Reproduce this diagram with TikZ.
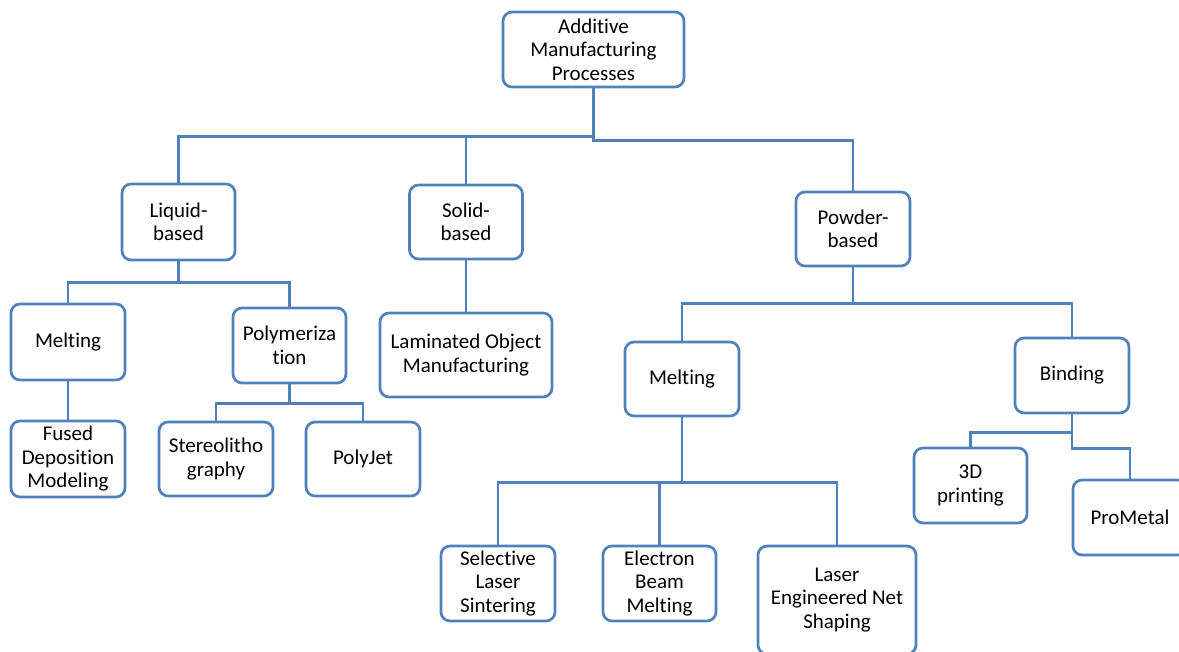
\documentclass[tikz,border=0pt]{standalone}
\usepackage{fontspec}
\setmainfont{Carlito}[Ligatures={NoCommon}]
\usepackage{xcolor}
\usetikzlibrary{positioning}
\definecolor{boxblue}{RGB}{79,129,189}

\begin{document}
\begin{tikzpicture}[x=1pt,y=-1pt,
    box/.style={draw=boxblue,line width=2.7pt,rounded corners=9pt,fill=white,
      align=center,inner sep=0pt,font=\fontsize{21}{23.5}\selectfont},
    link/.style={draw=boxblue,line width=2.7pt}]
  \useasboundingbox (0,0) rectangle (1179,652);
  % Top level
  \node[box,minimum width=181,minimum height=75] (amp) at (593.5,49.5)
    {Additive\\Manufacturing\\Processes};
  % Material groups
  \node[box,minimum width=113,minimum height=76] (liquid) at (178.5,222) {Liquid-\\based};
  \node[box,minimum width=113,minimum height=74] (solid) at (466,222) {Solid-\\based};
  \node[box,minimum width=114,minimum height=74] (powder) at (853,229) {Powder-\\based};
  % Liquid branch
  \node[box,minimum width=114,minimum height=76] (meltliq) at (68,342) {Melting};
  \node[box,minimum width=113,minimum height=75] (polym) at (289.5,345.5) {Polymeriza\\tion};
  \node[box,minimum width=114,minimum height=76] (fdm) at (68,459) {Fused\\Deposition\\Modeling};
  \node[box,minimum width=114,minimum height=74] (sla) at (216,459) {Stereolitho\\graphy};
  \node[box,minimum width=114,minimum height=74] (polyjet) at (363,459) {PolyJet};
  % Solid branch
  \node[box,minimum width=172,minimum height=84] (lom) at (466,355) {Laminated Object\\Manufacturing};
  % Powder branch
  \node[box,minimum width=114,minimum height=74] (meltpow) at (682,379) {Melting};
  \node[box,minimum width=114,minimum height=75] (binding) at (1072,375.5) {Binding};
  \node[box,minimum width=113,minimum height=75] (print3d) at (970.5,485.5) {3D\\printing};
  \node[box,minimum width=114,minimum height=75] (prometal) at (1130,517.5) {ProMetal};
  \node[box,minimum width=114,minimum height=75] (sls) at (498,583.5) {Selective\\Laser\\Sintering};
  \node[box,minimum width=113,minimum height=75] (ebm) at (659.5,583.5) {Electron\\Beam\\Melting};
  \node[box,minimum width=158,minimum height=108] (lens) at (837,600) {Laser\\Engineered Net\\Shaping};
  % Connectors
  \draw[link] (amp.south) -- ++(0,48) -| (liquid.north);
  \draw[link] (amp.south) -- ++(0,48) -| (solid.north);
  \draw[link] (amp.south) -- ++(0,52) -| (powder.north);
  \draw[link] (liquid.south) -- ++(0,21) -| (meltliq.north);
  \draw[link] (liquid.south) -- ++(0,21) -| (polym.north);
  \draw[link] (meltliq) -- (fdm);
  \draw[link] (polym.south) -- ++(0,19) -| (sla.north);
  \draw[link] (polym.south) -- ++(0,19) -| (polyjet.north);
  \draw[link] (solid) -- (lom);
  \draw[link] (powder.south) -- ++(0,36) -| (meltpow.north);
  \draw[link] (powder.south) -- ++(0,36) -| (binding.north);
  \draw[link] (meltpow.south) -- ++(0,65) -| (sls.north);
  \draw[link] (meltpow.south) -- ++(0,65) -| (ebm.north);
  \draw[link] (meltpow.south) -- ++(0,65) -| (lens.north);
  \draw[link] (binding.south) -- ++(0,18) -| (print3d.north);
  \draw[link] (binding.south) -- ++(0,34) -| (prometal.north);
\end{tikzpicture}
\end{document}
